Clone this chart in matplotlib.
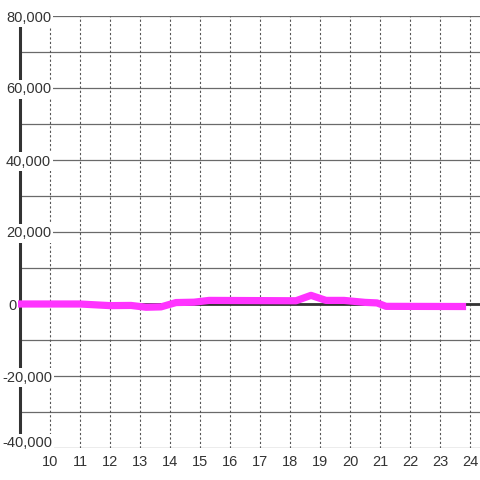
import matplotlib
matplotlib.use("Agg")
import matplotlib.pyplot as plt
from matplotlib.transforms import blended_transform_factory, ScaledTranslation

plt.rcParams['font.family'] = ['Liberation Sans', 'DejaVu Sans']
plt.rcParams['lines.scale_dashes'] = False

# data
hours = [8.9, 11.0, 12.0, 12.7, 13.2, 13.7, 14.2, 14.8, 15.3, 18.2, 18.7,
         19.2, 19.8, 20.5, 20.9, 21.2, 23.87]
values = [0, 0, -450, -400, -900, -800, 400, 500, 1000, 900, 2400,
          1000, 1000, 450, 300, -650, -700]
x_ticks = list(range(10, 25))
y_major = [-40000, -20000, 0, 20000, 40000, 60000, 80000]
y_labels = ['-40,000', '-20,000', '0', '20,000', '40,000', '60,000', '80,000']
y_grid = list(range(-40000, 80001, 10000))

W, H = 480, 480
fig = plt.figure(figsize=(W / 100, H / 100), dpi=100)
fig.patch.set_facecolor('white')
left, right, top, bottom = 20, 480, 16, 448
ax = fig.add_axes([left / W, 1 - bottom / H, (right - left) / W, (bottom - top) / H])
ax.set_facecolor('white')
ax.set_xlim(9.0, 24.3333)
ax.set_ylim(-40000, 80000)

for s in ['top', 'right', 'bottom']:
    ax.spines[s].set_visible(False)
ax.spines['left'].set_color('#333333')
ax.spines['left'].set_linewidth(2.2)
ax.spines['left'].set_zorder(3)

# horizontal grid
for yv in y_grid:
    ax.axhline(yv, color='#6a6a6a', lw=0.9, zorder=1)
# zero line
ax.axhline(0, color='#333333', lw=2.0, zorder=2)
# vertical dotted grid
for xv in x_ticks:
    ax.axvline(xv, color='#555555', lw=0.8, linestyle=(0, (1.6, 1.6)), zorder=1)

ax.plot(hours, values, color='#ff33ff', lw=5.2, solid_capstyle='butt',
        solid_joinstyle='round', zorder=4, clip_on=False)

ax.set_yticks([])
ax.set_xticks(x_ticks)
ax.set_xticklabels([str(t) for t in x_ticks])
ax.tick_params(axis='x', length=0, pad=5, labelsize=10.5, labelcolor='#333333')

# y labels: left-aligned near the figure edge, drawn over the grid with white boxes
tr = blended_transform_factory(fig.transFigure, ax.transData)
ymin = min(y_major)
for yv, lab in zip(y_major, y_labels):
    if lab == '0':
        xpx = 8
    elif lab.startswith('-'):
        xpx = 2
    else:
        xpx = 6
    dy = -5.5 if yv != ymin else 1
    off = ScaledTranslation(0, dy / 100, fig.dpi_scale_trans)
    ax.text(xpx / W, yv, lab, ha='left', va='baseline', fontsize=10.5, color='#333333',
            transform=tr + off, zorder=6, clip_on=False,
            bbox=dict(facecolor='white', edgecolor='none', pad=1.5))

fig.savefig('out.png', dpi=100, facecolor='white')
